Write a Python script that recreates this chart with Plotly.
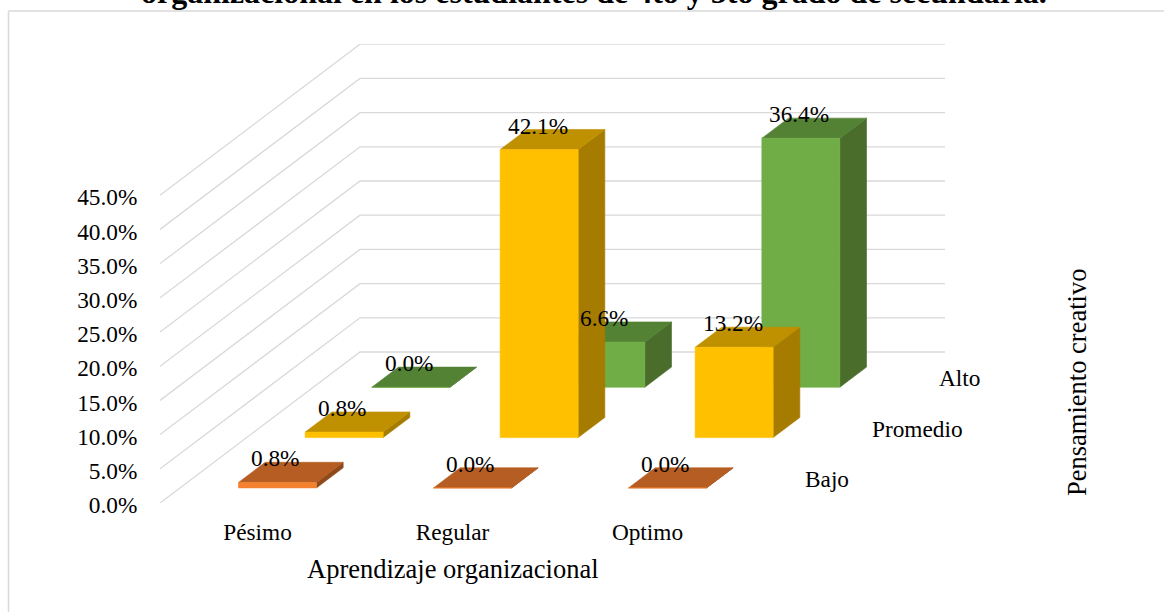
"""3D-look column chart: Aprendizaje organizacional vs Pensamiento creativo."""
import plotly.graph_objects as go

CATEGORIES = ["Pésimo", "Regular", "Optimo"]
ROWS = ["Bajo", "Promedio", "Alto"]
BAJO = [0.8, 0.0, 0.0]
PROMEDIO = [0.8, 42.1, 13.2]
ALTO = [0.0, 6.6, 36.4]
VALUES = [BAJO, PROMEDIO, ALTO]
Y_TICKS = [0, 5, 10, 15, 20, 25, 30, 35, 40, 45]

TITLE = "organizacional en los estudiantes de 4to y 5to grado de secundaria."
X_TITLE = "Aprendizaje organizacional"
Z_TITLE = "Pensamiento creativo"

# front, top, side
ROW_COLORS = [
    ("#F4812F", "#B55D22", "#8F4A1B"),
    ("#FFC000", "#BF9000", "#A67C00"),
    ("#70AD47", "#548235", "#4A6D2B"),
]
GRID = "#D9D9D9"
FONT = "Liberation Serif"
FONT_SIZE = 23.3

WIDTH, HEIGHT = 1164, 612
LEFT, RIGHT, TOP, BOTTOM = 160, 945, 44, 503

# oblique projection: one row of depth moves this far along the x and y axes
DEPTH_X = 66.67 / 195
DEPTH_Y = 50.33 / 6.84
BAR_HALF = 0.2


def project(cat, row, value):
    return cat + row * DEPTH_X, value + row * DEPTH_Y


def to_x(px):
    return (px - LEFT) / (RIGHT - LEFT)


def to_y(px):
    return (BOTTOM - px) / (BOTTOM - TOP)


def face(fig, corners, color):
    pts = [project(*c) for c in corners]
    pts.append(pts[0])
    fig.add_trace(go.Scatter(
        x=[p[0] for p in pts], y=[p[1] for p in pts],
        mode="lines", fill="toself", fillcolor=color,
        line=dict(color=color, width=0.6),
        hoverinfo="skip", showlegend=False,
    ))


def add_bar(fig, cat, row, value, colors):
    front, top, side = colors
    x0, x1 = cat + 0.5 - BAR_HALF, cat + 0.5 + BAR_HALF
    r0, r1 = row + 0.5 - BAR_HALF, row + 0.5 + BAR_HALF
    face(fig, [(x1, r0, 0), (x1, r1, 0), (x1, r1, value), (x1, r0, value)], side)
    face(fig, [(x0, r0, value), (x1, r0, value), (x1, r1, value), (x0, r1, value)], top)
    face(fig, [(x0, r0, 0), (x1, r0, 0), (x1, r0, value), (x0, r0, value)], front)


fig = go.Figure()

# walls: each gridline runs up the left wall, then along the back wall
n_rows, n_cats = len(ROWS), len(CATEGORIES)
for v in Y_TICKS:
    pts = [project(0, 0, v), project(0, n_rows, v), project(n_cats, n_rows, v)]
    fig.add_trace(go.Scatter(
        x=[p[0] for p in pts], y=[p[1] for p in pts], mode="lines",
        line=dict(color=GRID, width=1.3), hoverinfo="skip", showlegend=False,
    ))

for r in reversed(range(n_rows)):
    for c in range(n_cats):
        add_bar(fig, c, r, VALUES[r][c], ROW_COLORS[r])

annotations = []
for r in range(n_rows):
    for c in range(n_cats):
        x, y = project(c + 0.5, r + 0.5, VALUES[r][c])
        annotations.append(dict(
            x=x, y=y, text=f"{VALUES[r][c]:.1f}%", showarrow=False,
            xshift=-15, yshift=14,
        ))

for r, name in enumerate(ROWS):
    x, y = project(n_cats, r + 0.5, 0)
    annotations.append(dict(
        x=x, y=y, text=name, showarrow=False, xanchor="left",
        xshift=25, yshift=-1,
    ))

annotations.append(dict(
    x=1.5, y=0, text=X_TITLE, showarrow=False, yshift=-66,
    font=dict(size=26.5),
))
annotations.append(dict(
    xref="paper", yref="paper", x=to_x(1077), y=to_y(383),
    xanchor="center", yanchor="middle",
    text=Z_TITLE, textangle=-90, showarrow=False, font=dict(size=26.5),
))
annotations.append(dict(
    xref="paper", yref="paper", x=to_x(593.5), y=to_y(12),
    xanchor="center", yanchor="bottom",
    text=f"<b>{TITLE}</b>", showarrow=False, font=dict(size=32),
))

# chart frame, open at the bottom and the right as in the source image
frame = dict(type="line", xref="paper", yref="paper", line=dict(color=GRID, width=1.5))
shapes = [
    dict(frame, x0=to_x(8.5), x1=to_x(8.5), y0=to_y(11), y1=to_y(612)),
    dict(frame, x0=to_x(8.5), x1=to_x(1164), y0=to_y(11), y1=to_y(11)),
]

fig.update_layout(
    width=WIDTH, height=HEIGHT,
    margin=dict(l=LEFT, r=WIDTH - RIGHT, t=TOP, b=HEIGHT - BOTTOM, pad=0),
    paper_bgcolor="white", plot_bgcolor="white",
    font=dict(family=FONT, size=FONT_SIZE, color="black"),
    annotations=annotations, shapes=shapes,
)
fig.update_xaxes(
    range=[0, n_cats + n_rows * DEPTH_X],
    tickvals=[c + 0.5 for c in range(n_cats)], ticktext=CATEGORIES,
    ticks="outside", ticklen=8, tickcolor="rgba(0,0,0,0)",
    showgrid=False, zeroline=False, showline=False,
)
fig.update_yaxes(
    range=[0, (BOTTOM - TOP) / 6.84],
    tickvals=Y_TICKS, ticktext=[f"{v:.1f}%" for v in Y_TICKS],
    ticks="outside", ticklen=17, tickcolor="rgba(0,0,0,0)", ticklabelshift=2,
    showgrid=False, zeroline=False, showline=False,
)

fig.write_html(
    "out.html",
    config=dict(displayModeBar=False),
    post_script="document.body.style.margin='0';",
)
